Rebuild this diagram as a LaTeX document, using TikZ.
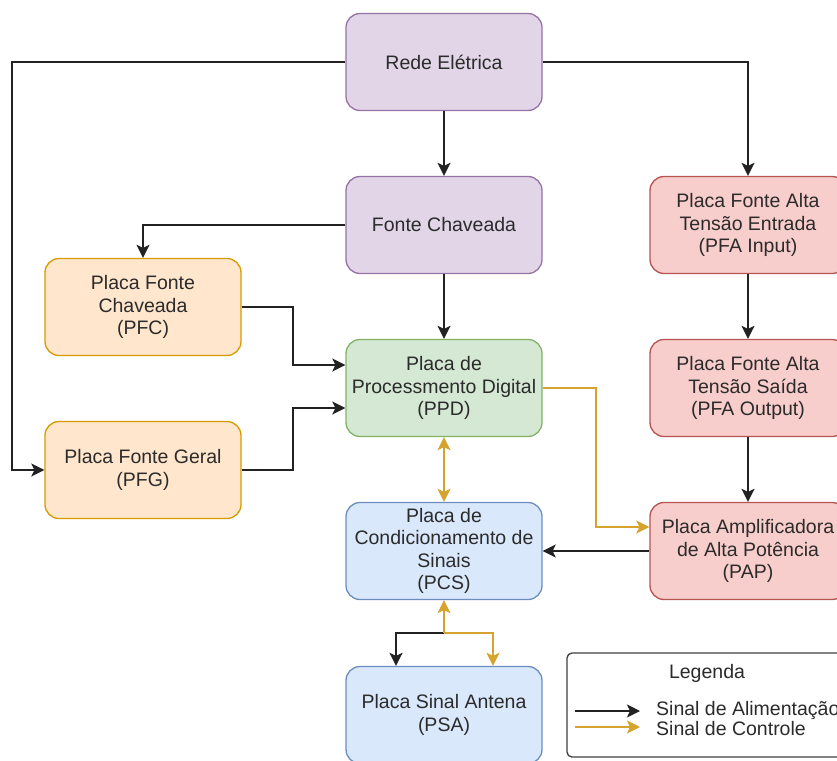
\documentclass[tikz,border=0pt]{standalone}
\usepackage{fontspec}
\setmainfont{Liberation Sans}
\usetikzlibrary{arrows.meta,calc}
\definecolor{purF}{HTML}{E1D5E7}\definecolor{purD}{HTML}{9673A6}
\definecolor{oraF}{HTML}{FFE6CC}\definecolor{oraD}{HTML}{D79B00}
\definecolor{greF}{HTML}{D5E8D4}\definecolor{greD}{HTML}{82B366}
\definecolor{bluF}{HTML}{DAE8FC}\definecolor{bluD}{HTML}{6C8EBF}
\definecolor{redF}{HTML}{F8CECC}\definecolor{redD}{HTML}{B85450}
\definecolor{txt}{HTML}{2B2B2B}
\definecolor{ctlc}{HTML}{D6A32E}
\definecolor{pwc}{HTML}{222222}
\tikzset{
  box/.style={draw, rounded corners=14pt, minimum width=196pt, minimum height=97pt,
    align=center, line width=1.3pt, font=\fontsize{19.5}{22.5}\selectfont, text=txt, inner sep=0pt},
  purbox/.style={box, fill=purF, draw=purD},
  orabox/.style={box, fill=oraF, draw=oraD},
  grebox/.style={box, fill=greF, draw=greD},
  blubox/.style={box, fill=bluF, draw=bluD},
  redbox/.style={box, fill=redF, draw=redD},
  tip/.tip={Stealth[length=13pt,width=13pt,inset=3pt]},
  pw/.style={draw=pwc, line width=1.9pt, -tip},
  ctl/.style={draw=ctlc, line width=1.9pt, -tip},
  legtxt/.style={font=\fontsize{19.5}{22.5}\selectfont, text=txt, inner sep=0pt},
}
\begin{document}
\begin{tikzpicture}[x=1pt,y=-1pt]
\useasboundingbox (0,0) rectangle (837,760);
\clip (0,0) rectangle (837,760);
\fill[white] (0,0) rectangle (837,760);

% nodes
\node[purbox] (rede) at (444,62) {Rede Elétrica};
\node[purbox] (fc) at (444,225) {Fonte Chaveada};
\node[orabox] (pfc) at (143,307) {Placa Fonte\\Chaveada\\(PFC)};
\node[orabox] (pfg) at (143,470) {Placa Fonte Geral\\(PFG)};
\node[grebox] (ppd) at (444,388) {Placa de\\Processmento Digital\\(PPD)};
\node[blubox] (pcs) at (444,551) {Placa de\\Condicionamento de\\Sinais\\(PCS)};
\node[blubox] (psa) at (444,715) {Placa Sinal Antena\\(PSA)};
\node[redbox] (pfain) at (748,225) {Placa Fonte Alta\\Tensão Entrada\\(PFA Input)};
\node[redbox] (pfaout) at (748,388) {Placa Fonte Alta\\Tensão Saída\\(PFA Output)};
\node[redbox] (pap) at (748,551) {Placa Amplificadora\\de Alta Potência\\(PAP)};

% coordinates
\coordinate (lft) at (12,0);
\coordinate (j1) at (293,365);
\coordinate (j2) at (293,408);
\coordinate (j3) at (596,527);
\coordinate (j4) at (444,633);
\coordinate (j5) at (396,633);
\coordinate (j6) at (493,633);

% power connectors
\draw[pw] (rede) -- (fc);
\draw[pw] (rede.east) -| (pfain.north);
\draw[pw] (rede.west) -| (lft |- pfg.west) -- (pfg.west);
\draw[pw] (fc.west) -| (pfc.north);
\draw[pw] (fc) -- (ppd);
\draw[pw] (pfc.east) -| (j1) -- (j1 -| ppd.west);
\draw[pw] (pfg.east) -| (j2) -- (j2 -| ppd.west);
\draw[pw] (pfain) -- (pfaout);
\draw[pw] (pfaout) -- (pap);
\draw[pw] (pap) -- (pcs);
\draw[pw] (j4) -- (j5) -- (j5 |- psa.north);

% control connectors
\draw[ctl] (ppd.east) -| (j3) -- (j3 -| pap.west);
\draw[ctl, tip-tip] (ppd) -- (pcs);
\draw[ctl] (j4) -- (pcs.south);
\draw[ctl] (j4) -- (j6) -- (j6 |- psa.north);

% legend
\node[draw=black!75, line width=1.3pt, rounded corners=5pt, minimum width=285pt, minimum height=104pt, inner sep=0pt] (leg) at (709.5,705) {};
\node[legtxt] (legt) at (707,673) {Legenda};
\coordinate (la1) at (575,711);
\coordinate (la2) at (640,711);
\coordinate (lb1) at (575,727);
\coordinate (lb2) at (640,727);
\draw[pw] (la1) -- (la2);
\draw[ctl] (lb1) -- (lb2);
\node[legtxt, anchor=west] (lt1) at (656,710) {Sinal de Alimentação};
\node[legtxt, anchor=west] (lt2) at (656,729) {Sinal de Controle};
\end{tikzpicture}
\end{document}
